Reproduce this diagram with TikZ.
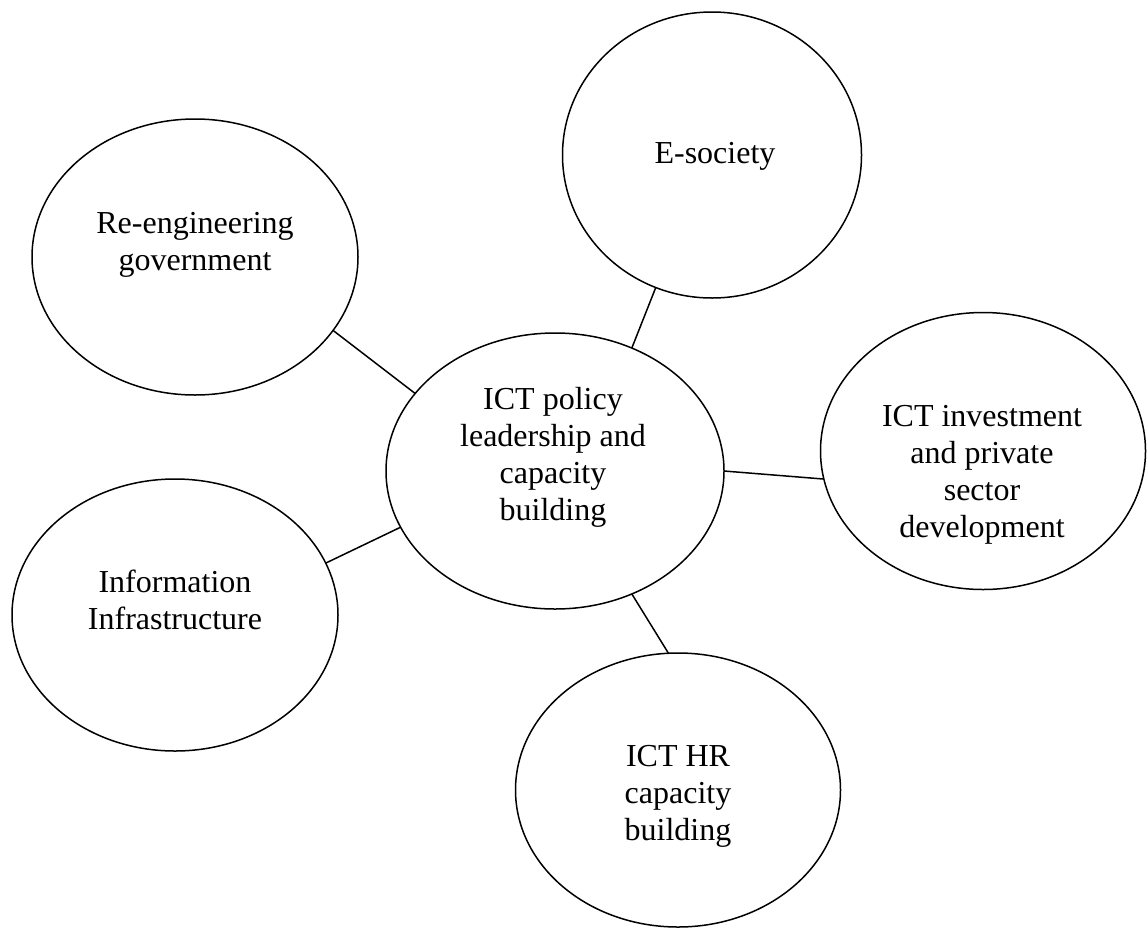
\documentclass[tikz,border=0pt]{standalone}
\usepackage{fontspec}
\setmainfont{Liberation Serif}
\usetikzlibrary{shapes.geometric}
\begin{document}
\begin{tikzpicture}[x=1pt,y=-1pt,
  bubble/.style={draw=black, line width=1.5pt, ellipse, inner sep=0pt, outer sep=0pt},
  label text/.style={align=center, inner sep=0pt, font=\fontsize{32}{37}\selectfont},
  link/.style={draw=black, line width=1.5pt}]
\useasboundingbox (0,0) rectangle (1147,929);
% ellipses
\node[bubble, minimum width=326pt, minimum height=276pt] (reeng) at (195,257) {};
\node[bubble, minimum width=299pt, minimum height=286pt] (esoc) at (712,155) {};
\node[bubble, minimum width=338pt, minimum height=276pt] (core) at (555,471) {};
\node[bubble, minimum width=325pt, minimum height=277pt] (invest) at (983,451) {};
\node[bubble, minimum width=326pt, minimum height=272pt] (infra) at (175,615) {};
\node[bubble, minimum width=325pt, minimum height=274pt] (hr) at (678,790) {};
% texts
\node[label text] (reeng-t) at (195,244.5) {Re-engineering\\government};
\node[label text] (esoc-t) at (715,156) {E-society};
\node[label text] (core-t) at (553,457.5) {ICT policy\\leadership and\\capacity\\building};
\node[label text] (invest-t) at (982,474.5) {ICT investment\\and private\\sector\\development};
\node[label text] (infra-t) at (175,600) {Information\\Infrastructure};
\node[label text] (hr-t) at (678,796) {ICT HR\\capacity\\building};
% connectors
\draw[link] (reeng.-28.2) -- (core.151.8);
\draw[link] (esoc.-113.4) -- (core.58.8);
\draw[link] (core.0.7) -- (invest.-170.2);
\draw[link] (core.-160.9) -- (infra.19.8);
\draw[link] (core.-58.8) -- (hr.94.6);
\end{tikzpicture}
\end{document}
